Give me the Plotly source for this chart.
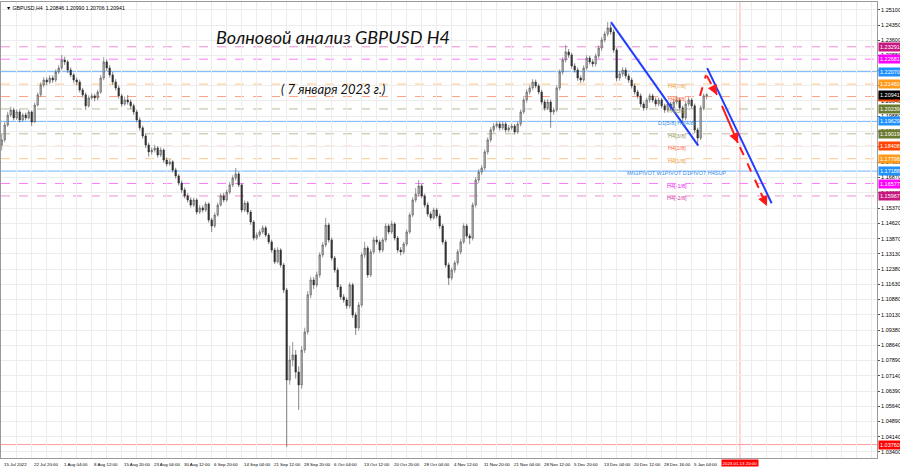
import plotly.graph_objects as go

# ---------------- data ----------------
header_text = "\u25bc GBPUSD,H4  1.20846 1.20990 1.20706 1.20941"
title_text = "Волновой анализ GBPUSD H4"
subtitle_text = "( 7 января 2023 г.)"

first_open = 1.1847
closes = [
    1.1872,1.1945,1.1994,1.2019,1.1980,1.2009,1.1970,1.1994,1.1980,1.2009,
    1.1960,1.2043,1.2093,1.2142,1.2166,1.2156,1.2176,1.2166,1.2205,1.2225,
    1.2264,1.2255,1.2215,1.2191,1.2166,1.2156,1.2117,1.2093,1.2039,1.2078,
    1.2088,1.2078,1.2107,1.2176,1.2255,1.2225,1.2191,1.2156,1.2127,1.2088,
    1.2048,1.2068,1.2058,1.2039,1.2009,1.1970,1.1931,1.1891,1.1847,1.1813,
    1.1822,1.1832,1.1798,1.1822,1.1773,1.1754,1.1764,1.1724,1.1695,1.1660,
    1.1626,1.1597,1.1577,1.1552,1.1577,1.1518,1.1538,1.1528,1.1557,1.1479,
    1.1449,1.1503,1.1552,1.1597,1.1577,1.1616,1.1651,1.1685,1.1705,1.1651,
    1.1528,1.1562,1.1518,1.1469,1.1390,1.1405,1.1420,1.1440,1.1405,1.1371,
    1.1331,1.1273,1.1331,1.1258,1.1135,1.0693,1.0791,1.0816,1.0732,1.0669,
    1.0840,1.0929,1.1111,1.1184,1.1160,1.1209,1.1307,1.1356,1.1454,1.1381,
    1.1292,1.1233,1.1150,1.1101,1.1086,1.1057,1.1160,1.1012,1.0949,1.1061,
    1.1307,1.1341,1.1209,1.1322,1.1381,1.1371,1.1331,1.1381,1.1449,1.1420,
    1.1459,1.1390,1.1331,1.1322,1.1361,1.1420,1.1503,1.1577,1.1606,1.1646,
    1.1597,1.1552,1.1508,1.1489,1.1528,1.1498,1.1449,1.1371,1.1258,1.1194,
    1.1233,1.1268,1.1322,1.1371,1.1449,1.1400,1.1390,1.1552,1.1675,1.1714,
    1.1734,1.1813,1.1872,1.1921,1.1940,1.1950,1.1931,1.1950,1.1921,1.1931,
    1.1940,1.1911,1.1950,1.2009,1.2068,1.2107,1.2127,1.2156,1.2137,1.2107,
    1.2058,1.2029,1.2058,1.2009,1.2019,1.2127,1.2205,1.2264,1.2304,1.2289,
    1.2235,1.2215,1.2176,1.2166,1.2225,1.2274,1.2255,1.2245,1.2284,1.2323,
    1.2363,1.2392,1.2422,1.2402,1.2313,1.2176,1.2196,1.2215,1.2186,1.2166,
    1.2137,1.2107,1.2088,1.2048,1.2029,1.2068,1.2088,1.2068,1.2048,1.2068,
    1.2039,1.2019,1.2048,1.2029,1.2058,1.2068,1.2029,1.1980,1.2048,1.2068,
    1.2039,1.1921,1.1881,1.2029,1.2088,1.2094,
]
highs = [
    1.1900,1.1960,1.2010,1.2035,1.2030,1.2022,1.2020,1.2005,1.2006,1.2020,
    1.2016,1.2055,1.2105,1.2155,1.2180,1.2178,1.2190,1.2188,1.2218,1.2240,
    1.2289,1.2280,1.2265,1.2228,1.2200,1.2178,1.2168,1.2128,1.2105,1.2090,
    1.2100,1.2098,1.2118,1.2190,1.2279,1.2268,1.2238,1.2205,1.2170,1.2140,
    1.2098,1.2085,1.2092,1.2070,1.2050,1.2020,1.1982,1.1942,1.1902,1.1858,
    1.1835,1.1848,1.1842,1.1836,1.1830,1.1785,1.1778,1.1772,1.1735,1.1705,
    1.1672,1.1638,1.1610,1.1590,1.1588,1.1585,1.1552,1.1550,1.1568,1.1565,
    1.1490,1.1515,1.1565,1.1610,1.1612,1.1628,1.1665,1.1698,1.1734,1.1715,
    1.1660,1.1575,1.1572,1.1528,1.1478,1.1418,1.1432,1.1452,1.1450,1.1415,
    1.1382,1.1342,1.1345,1.1340,1.1268,1.1145,1.0860,1.0880,1.0840,1.0760,
    1.0860,1.0950,1.1130,1.1200,1.1198,1.1225,1.1320,1.1370,1.1489,1.1465,
    1.1392,1.1302,1.1245,1.1162,1.1115,1.1098,1.1172,1.1170,1.1025,1.1075,
    1.1320,1.1372,1.1352,1.1335,1.1395,1.1400,1.1382,1.1392,1.1462,1.1460,
    1.1475,1.1468,1.1400,1.1345,1.1372,1.1432,1.1515,1.1590,1.1635,1.1675,
    1.1658,1.1608,1.1565,1.1520,1.1540,1.1538,1.1510,1.1460,1.1382,1.1270,
    1.1245,1.1280,1.1335,1.1385,1.1462,1.1460,1.1412,1.1565,1.1690,1.1728,
    1.1748,1.1825,1.1885,1.1935,1.1955,1.1965,1.1962,1.1963,1.1960,1.1945,
    1.1952,1.1950,1.1962,1.2022,1.2080,1.2120,1.2140,1.2170,1.2168,1.2148,
    1.2118,1.2070,1.2072,1.2070,1.2032,1.2140,1.2218,1.2278,1.2338,1.2318,
    1.2300,1.2248,1.2228,1.2188,1.2238,1.2288,1.2285,1.2268,1.2296,1.2336,
    1.2376,1.2405,1.2451,1.2440,1.2415,1.2325,1.2210,1.2230,1.2228,1.2198,
    1.2178,1.2148,1.2118,1.2100,1.2060,1.2080,1.2100,1.2098,1.2080,1.2080,
    1.2078,1.2050,1.2060,1.2060,1.2070,1.2088,1.2080,1.2040,1.2062,1.2082,
    1.2078,1.2050,1.1932,1.2042,1.2100,1.2099,
]
lows = [
    1.1820,1.1860,1.1935,1.1985,1.1968,1.1970,1.1958,1.1962,1.1968,1.1972,
    1.1940,1.1955,1.2035,1.2085,1.2130,1.2140,1.2145,1.2152,1.2155,1.2195,
    1.2215,1.2240,1.2200,1.2180,1.2152,1.2140,1.2105,1.2080,1.2019,1.2030,
    1.2068,1.2062,1.2066,1.2098,1.2165,1.2210,1.2178,1.2142,1.2115,1.2075,
    1.2035,1.2040,1.2045,1.2025,1.1995,1.1958,1.1918,1.1878,1.1832,1.1790,
    1.1800,1.1810,1.1785,1.1788,1.1760,1.1742,1.1745,1.1712,1.1682,1.1648,
    1.1612,1.1585,1.1565,1.1540,1.1542,1.1505,1.1508,1.1515,1.1518,1.1466,
    1.1420,1.1440,1.1495,1.1545,1.1565,1.1568,1.1605,1.1640,1.1672,1.1640,
    1.1515,1.1518,1.1505,1.1455,1.1378,1.1380,1.1395,1.1410,1.1395,1.1360,
    1.1318,1.1262,1.1265,1.1245,1.1120,1.0364,1.0670,1.0760,1.0700,1.0546,
    1.0650,1.0825,1.0915,1.1095,1.1140,1.1148,1.1195,1.1295,1.1345,1.1368,
    1.1280,1.1220,1.1135,1.1088,1.1072,1.1042,1.1045,1.0998,1.0914,1.0935,
    1.1050,1.1292,1.1195,1.1198,1.1310,1.1358,1.1318,1.1320,1.1370,1.1408,
    1.1410,1.1378,1.1318,1.1305,1.1310,1.1350,1.1410,1.1492,1.1565,1.1595,
    1.1585,1.1540,1.1495,1.1476,1.1480,1.1486,1.1436,1.1358,1.1245,1.1160,
    1.1182,1.1220,1.1256,1.1310,1.1360,1.1388,1.1360,1.1378,1.1540,1.1660,
    1.1700,1.1722,1.1800,1.1860,1.1908,1.1928,1.1918,1.1920,1.1908,1.1910,
    1.1920,1.1898,1.1900,1.1938,1.1998,1.2055,1.2095,1.2115,1.2125,1.2095,
    1.2045,1.2016,1.2018,1.1931,1.1995,1.2008,1.2115,1.2192,1.2252,1.2275,
    1.2222,1.2202,1.2162,1.2152,1.2155,1.2212,1.2242,1.2230,1.2232,1.2272,
    1.2310,1.2350,1.2380,1.2388,1.2300,1.2160,1.2162,1.2182,1.2172,1.2152,
    1.2124,1.2094,1.2075,1.2034,1.2015,1.2018,1.2055,1.2055,1.2035,1.2036,
    1.2026,1.2005,1.2008,1.2016,1.2018,1.2046,1.2016,1.1955,1.1968,1.2036,
    1.2025,1.1905,1.1847,1.1870,1.2018,1.2071,
]
opens = [first_open] + closes[:-1]
bars_per_candle = 3.2
candle_pos = [i * bars_per_candle for i in range(len(closes))]

time_labels = ["15 Jul 2022", "22 Jul 20:00", "1 Aug 04:00", "8 Aug 12:00", "15 Aug 20:00",
               "23 Aug 04:00", "30 Aug 12:00", "6 Sep 20:00", "14 Sep 04:00", "21 Sep 12:00",
               "28 Sep 20:00", "6 Oct 04:00", "13 Oct 12:00", "20 Oct 20:00", "28 Oct 04:00",
               "4 Nov 12:00", "11 Nov 20:00", "21 Nov 04:00", "28 Nov 12:00", "5 Dec 20:00",
               "13 Dec 04:00", "20 Dec 12:00", "28 Dec 16:00", "5 Jan 04:00"]
bars_per_label = 32

price_ticks = [1.25100, 1.24350, 1.23600, 1.22880, 1.22130, 1.21380, 1.20640, 1.19880,
               1.19130, 1.18380, 1.17630, 1.16870, 1.16120, 1.15370, 1.14620, 1.13870,
               1.13130, 1.12380, 1.11630, 1.10880, 1.10130, 1.09380, 1.08640, 1.07890,
               1.07140, 1.06390, 1.05640, 1.04890, 1.04140, 1.03400]

levels = [1.23291, 1.22681, 1.22070, 1.21460, 1.20850, 1.20239, 1.19629,
          1.19019, 1.18408, 1.17798, 1.17188, 1.16577, 1.15967]
level_names = ["H4[+2/8]", "H4[+1/8]", "MN1[5/8] W1[5/8] D1[6/8] H4[8/8]", "H4[7/8]",
               "H4[6/8]", "H4[5/8]", "D1[5/8] H4[4/8]", "H4[3/8]", "H4[2/8]", "H4[1/8]",
               "MN1PIVOT W1PIVOT D1PIVOT H4SUP", "H4[-1/8]", "H4[-2/8]"]
current_price = 1.20941
period_low = 1.03760
future_bar = 787.5
future_label = "2023.01.13 20:00"

# trend lines: (bar, price) pairs
blue_line_1 = [(649.9, 1.2450), (743.0, 1.1844)]
blue_line_2 = [(752.6, 1.2224), (821.3, 1.1561)]
red_path = [
    [(744.9, 1.2088), (751.3, 1.2191)],
    [(752.3, 1.2186), (763.0, 1.2093)],
    [(768.3, 1.2039), (785.3, 1.1857)],
    [(787.5, 1.1837), (816.3, 1.1547)],
]

# ---------------- styles ----------------
lvl_line_col = ["#ee8fcf", "#ff7bff", "#72b4ff", "#ffc98a", "#ffa486", "#bcbc9c", "#72b4ff",
                "#bcbc9c", "#ffa486", "#ffc98a", "#72b4ff", "#ff7bff", "#ee8fcf"]
lvl_dash = ["dash", "dash", "solid", "dash", "dash", "dash", "solid",
            "dash", "dash", "dash", "solid", "dash", "dash"]
lvl_lab_col = ["#c8177f", "#ff00ff", "#1e90ff", "#ff9a1a", "#ff4500", "#6b7b2f", "#1e90ff",
               "#6b7b2f", "#ff4500", "#ff9a1a", "#1e90ff", "#ff00ff", "#c8177f"]
lvl_txt_col = ["#d0409f", "#ee22ee", "#3a8ee6", "#f0a040", "#ff6a3a", "#9a9a60", "#3a8ee6",
               "#9a9a60", "#ff6a3a", "#f0a040", "#3a8ee6", "#ee22ee", "#d0409f"]

XMIN, XMAX = -0.75, 933.7
YMIN, YMAX = 1.0310, 1.2549
FONT = "Liberation Sans"

fig = go.Figure()

# level lines
for lv, c, d in zip(levels, lvl_line_col, lvl_dash):
    fig.add_shape(type="line", xref="x", yref="y", x0=XMIN, x1=XMAX, y0=lv, y1=lv,
                  line=dict(color=c, width=1, dash=d), layer="below")
fig.add_shape(type="line", xref="x", yref="y", x0=XMIN, x1=XMAX, y0=period_low, y1=period_low,
              line=dict(color="#ff9a9a", width=1), layer="below")
fig.add_shape(type="line", xref="x", yref="paper", x0=future_bar, x1=future_bar, y0=0, y1=1,
              line=dict(color="#ffb0b0", width=1), layer="below")

fig.add_trace(go.Candlestick(
    x=candle_pos, open=opens, high=highs, low=lows, close=closes,
    increasing=dict(line=dict(color="#555555", width=0.6), fillcolor="#b5b5b5"),
    decreasing=dict(line=dict(color="#333333", width=0.6), fillcolor="#333333"),
    whiskerwidth=0, showlegend=False, hoverinfo="skip"))

for seg, col in [(blue_line_1, "#1f3dff"), (blue_line_2, "#1f3dff")]:
    fig.add_trace(go.Scatter(x=[p[0] for p in seg], y=[p[1] for p in seg], mode="lines",
                             line=dict(color=col, width=2), showlegend=False, hoverinfo="skip"))

red_dash = ["dash", "dash", "solid", "dash"]
red_arrow = [False, True, True, True]
for seg, d, arr in zip(red_path, red_dash, red_arrow):
    fig.add_trace(go.Scatter(x=[p[0] for p in seg], y=[p[1] for p in seg], mode="lines",
                             line=dict(color="#ff1a1a", width=2, dash=d),
                             showlegend=False, hoverinfo="skip"))
    if arr:
        (x0, y0), (x1, y1) = seg
        fig.add_annotation(x=x1, y=y1, ax=x1 - 0.25 * (x1 - x0), ay=y1 - 0.25 * (y1 - y0),
                           xref="x", yref="y", axref="x", ayref="y", text="",
                           showarrow=True, arrowhead=2, arrowsize=1, arrowwidth=2,
                           arrowcolor="#ff1a1a", standoff=0, startstandoff=0)

ann = []
# level texts on the chart
for lv, nm, tc in zip(levels, level_names, lvl_txt_col):
    ann.append(dict(x=720, y=lv, xref="x", yref="y", text=nm, showarrow=False,
                    xanchor="center", yanchor="middle", yshift=-2,
                    font=dict(size=5.5, color=tc, family=FONT)))
# right price labels
for lv, lc in zip(levels, lvl_lab_col):
    ann.append(dict(x=1, y=lv, xref="paper", yref="y", text=f"{lv:.5f}", showarrow=False,
                    xanchor="left", yanchor="middle", xshift=1, bgcolor=lc, borderpad=1,
                    font=dict(size=5.5, color="white", family=FONT)))
ann.append(dict(x=1, y=current_price, xref="paper", yref="y", text=f"{current_price:.5f}",
                showarrow=False, xanchor="left", yanchor="middle", xshift=1, bgcolor="#000000",
                borderpad=1, font=dict(size=5.5, color="white", family=FONT)))
ann.append(dict(x=1, y=period_low, xref="paper", yref="y", text=f"{period_low:.5f}",
                showarrow=False, xanchor="left", yanchor="middle", xshift=1, bgcolor="#ff0000",
                borderpad=1, font=dict(size=5.5, color="white", family=FONT)))
# time labels
for k, t in enumerate(time_labels):
    ann.append(dict(x=k * bars_per_label, y=0, xref="x", yref="paper", text=t, showarrow=False,
                    xanchor="left", yanchor="top", yshift=-1.5,
                    font=dict(size=4.4, color="#000000", family=FONT)))
ann.append(dict(x=future_bar, y=0, xref="x", yref="paper", text=future_label, showarrow=False,
                xanchor="center", yanchor="top", yshift=-1, bgcolor="#ff0000", borderpad=0.5,
                font=dict(size=4.4, color="white", family=FONT)))
# header and titles
ann.append(dict(x=0.003, y=0.997, xref="paper", yref="paper", text=header_text, showarrow=False,
                xanchor="left", yanchor="top",
                font=dict(size=5.2, color="#000000", family=FONT)))
ann.append(dict(x=0.379, y=0.923, xref="paper", yref="paper", text=title_text, showarrow=False,
                xanchor="center", yanchor="middle",
                font=dict(size=18, color="#111111", family="Lato", style="italic")))
ann.append(dict(x=0.379, y=0.809, xref="paper", yref="paper", text=subtitle_text, showarrow=False,
                xanchor="center", yanchor="middle",
                font=dict(size=13, color="#111111", family="Lato", style="italic")))

fig.update_layout(
    width=900, height=468,
    margin=dict(l=1, r=23, t=2, b=10),
    paper_bgcolor="white", plot_bgcolor="white",
    showlegend=False,
    annotations=ann,
    xaxis=dict(range=[XMIN, XMAX], tick0=0, dtick=16, showgrid=True, gridcolor="#ededed",
               gridwidth=1, showticklabels=False, ticks="", zeroline=False,
               showline=True, linecolor="#9a9a9a", mirror=True,
               rangeslider=dict(visible=False), fixedrange=True),
    yaxis=dict(range=[YMIN, YMAX], side="right", tickvals=price_ticks,
               ticktext=[f"{v:.5f}" for v in price_ticks],
               tickfont=dict(size=5.5, color="#000000", family=FONT),
               ticks="outside", ticklen=2, tickcolor="#555555",
               showgrid=True, gridcolor="#ededed", zeroline=False,
               showline=True, linecolor="#9a9a9a", mirror=True, automargin=False,
               fixedrange=True),
)

fig.write_html("out.html", config={"displayModeBar": False},
               post_script="document.body.style.margin='0';document.body.style.padding='0';document.body.style.overflow='hidden';")
